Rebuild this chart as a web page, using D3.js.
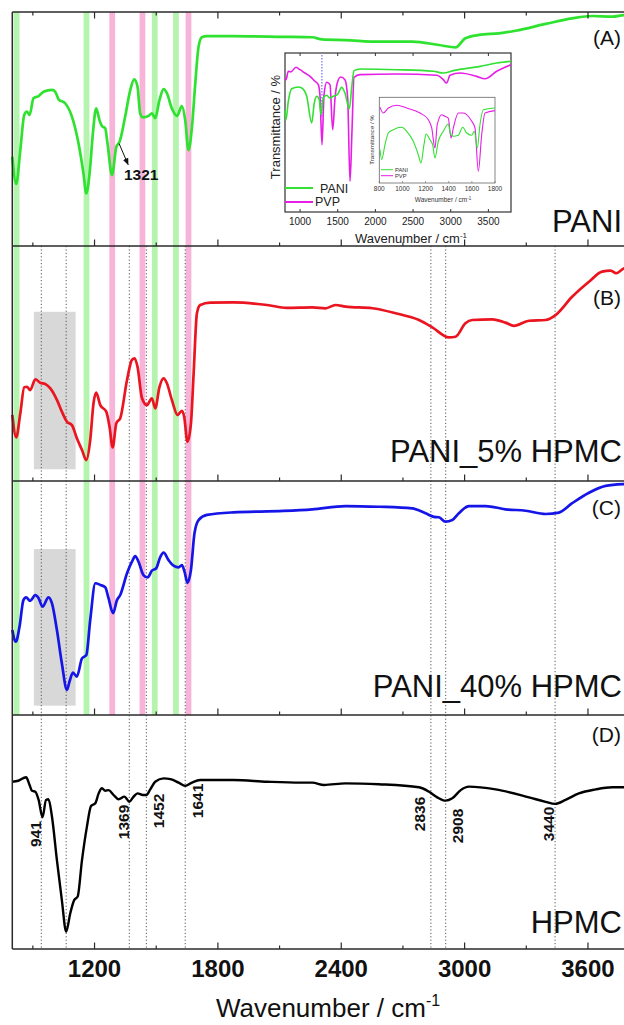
<!DOCTYPE html>
<html><head><meta charset="utf-8">
<script src="https://cdnjs.cloudflare.com/ajax/libs/d3/7.8.5/d3.min.js"></script>
<style>
html,body{margin:0;padding:0;background:#fff;overflow:hidden}
svg{display:block}
text{font-family:"Liberation Sans",Arial,Helvetica,sans-serif}
</style>
</head><body>
<svg id="c" width="624" height="1025"></svg>
<script>
// ---------------- DATA ----------------
// [wavenumber (cm-1), transmittance (a.u., 0-100 within each panel)]
const specPANI = [[800,38.2],[819,26.5],[839,41.0],[858,56.0],[871,57.4],[884,56.0],[903,63.1],[928,64.1],[952,65.9],[993,66.7],[1009,65.9],[1025,62.7],[1057,61.0],[1090,55.3],[1122,43.9],[1146,31.1],[1160,22.5],[1176,31.1],[1192,48.2],[1208,58.8],[1224,53.8],[1236,51.3],[1252,50.3],[1263,43.9],[1285,30.3],[1306,42.4],[1322,44.6],[1349,55.3],[1374,66.7],[1393,71.2],[1409,68.1],[1422,56.7],[1435,55.0],[1463,55.6],[1479,56.7],[1495,54.6],[1516,62.4],[1536,67.0],[1552,65.3],[1576,58.8],[1601,55.6],[1625,59.8],[1641,53.8],[1657,41.0],[1674,51.0],[1690,69.5],[1706,85.2],[1722,89.2],[1747,89.7],[1876,89.7],[2119,89.4],[2259,89.2],[2307,88.3],[2419,88.0],[2583,87.3],[2745,87.3],[2875,85.9],[2956,84.9],[3004,88.8],[3070,90.2],[3167,90.9],[3248,92.0],[3394,94.9],[3523,97.3],[3621,98.3],[3718,98.0],[3776,98.7],[3900,99],[4000,99]];
const specPANI5 = [[800,28.1],[819,18.6],[839,28.8],[858,39.9],[871,40.1],[887,38.7],[912,43.3],[936,41.8],[960,41.3],[985,39.4],[1017,34.5],[1041,29.5],[1066,25.2],[1090,23.8],[1114,18.2],[1139,13.2],[1160,8.9],[1179,17.4],[1195,33.1],[1208,37.6],[1228,32.3],[1257,29.5],[1273,23.1],[1288,14.3],[1306,24.6],[1325,26.7],[1358,43.0],[1382,51.5],[1395,52.2],[1409,48.6],[1431,35.2],[1455,32.3],[1479,35.2],[1495,30.9],[1516,40.1],[1536,43.7],[1552,41.6],[1576,34.5],[1604,28.1],[1625,29.9],[1636,27.4],[1652,16.7],[1669,24.6],[1682,45.8],[1698,71.4],[1714,74.9],[1763,75.9],[1876,76.0],[2039,74.9],[2136,73.7],[2259,73.9],[2324,73.5],[2372,74.9],[2421,74.2],[2551,73.5],[2664,71.4],[2778,68.5],[2843,65.4],[2924,61.1],[2956,61.4],[3004,67.1],[3037,68.5],[3134,68.8],[3199,67.4],[3240,66.0],[3313,68.2],[3394,68.5],[3442,70.6],[3523,78.4],[3605,84.8],[3669,89.1],[3710,89.5],[3737,88.4],[3776,90.5],[3900,92],[4000,93]];
const specPANI40 = [[800,36.3],[817,31.3],[835,37.7],[854,49.1],[867,50.3],[887,48.8],[912,51.2],[928,49.9],[947,46.3],[976,50.3],[993,47.7],[1017,36.3],[1041,22.1],[1066,10.7],[1078,14.2],[1095,18.1],[1114,16.4],[1139,24.2],[1160,25.6],[1179,40.6],[1204,56.3],[1228,55.6],[1252,54.6],[1268,49.9],[1290,43.5],[1309,49.1],[1325,51.3],[1358,60.6],[1382,65.5],[1398,67.9],[1414,65.5],[1438,59.8],[1458,58.8],[1479,61.7],[1500,62.7],[1520,67.6],[1536,69.4],[1560,66.2],[1584,63.8],[1609,63.1],[1625,64.1],[1638,61.2],[1652,56.5],[1669,62.0],[1686,77.6],[1706,83.3],[1747,85.5],[1876,86.6],[2119,87.2],[2259,87.9],[2421,89.3],[2583,89.0],[2745,88.3],[2810,86.2],[2851,84.7],[2875,84.5],[2907,82.6],[2940,83.3],[2972,86.2],[3021,89.3],[3102,89.3],[3199,87.9],[3297,87.3],[3394,85.9],[3459,86.5],[3523,90.5],[3605,95.0],[3686,97.9],[3776,98.7],[3900,99],[4000,99]];
const specHPMC = [[800,71.5],[829,71.9],[867,73.4],[884,70.1],[896,67.6],[912,67.2],[928,63.7],[947,56.3],[964,63.7],[976,64.0],[993,56.5],[1017,38.0],[1041,20.9],[1062,7.4],[1082,15.3],[1101,20.9],[1118,22.4],[1139,38.0],[1163,52.3],[1183,61.1],[1204,62.3],[1220,66.5],[1236,68.7],[1252,67.6],[1268,67.9],[1293,65.8],[1317,64.0],[1345,65.1],[1358,64.0],[1369,62.9],[1390,65.1],[1409,66.5],[1435,65.8],[1452,65.8],[1471,68.2],[1495,71.5],[1536,72.9],[1569,72.6],[1609,71.1],[1641,69.7],[1674,71.1],[1714,72.2],[1876,72.2],[2039,71.5],[2201,71.1],[2259,71.1],[2316,70.1],[2421,70.8],[2583,70.4],[2778,69.1],[2827,67.2],[2867,64.8],[2908,63.4],[2940,64.4],[2981,67.9],[3021,69.4],[3151,68.2],[3313,64.8],[3394,62.9],[3440,62.0],[3491,63.7],[3556,66.5],[3637,68.2],[3718,69.1],[3776,69.1],[3900,69.1],[4000,69]];
// inset (PANI vs PVP, full range)
const insetPANI = [[800,64],[813,58.0],[844,69.6],[889,77.5],[977,78.6],[1022,78.0],[1088,72.8],[1154,56.0],[1189,68.6],[1221,72.8],[1255,70.6],[1278,61.2],[1308,71.7],[1354,73.4],[1397,71.7],[1441,72.8],[1494,73.8],[1553,78.4],[1596,74.8],[1654,65.0],[1685,78.0],[1716,88.9],[1796,89.9],[2283,89.5],[2769,88.5],[2901,87.4],[3034,88.9],[3388,91.6],[3610,93.7],[3800,94.8]];
const insetPVP = [[800,84],[813,83.2],[844,88.5],[876,88.1],[946,91.0],[999,89.5],[1065,87.4],[1132,85.3],[1198,82.2],[1242,80.1],[1265,72.8],[1291,42.3],[1318,73.8],[1354,81.6],[1397,80.1],[1433,51.8],[1464,71.7],[1494,81.1],[1539,84.9],[1596,83.2],[1632,71.7],[1663,19.3],[1689,50.8],[1716,84.7],[1796,86.4],[2283,86.8],[2814,86.0],[2901,83.2],[2946,81.1],[2990,86.0],[3123,87.4],[3345,85.3],[3455,83.8],[3610,88.5],[3800,92.6]];
// inner inset (800-1800 cm-1)
const zoomPANI = [[806,38.9],[821,27.2],[849,44.7],[878,58.3],[921,62.2],[994,65.0],[1037,60.3],[1094,48.7],[1137,33.0],[1160,23.3],[1186,44.7],[1204,57.2],[1238,50.5],[1261,44.7],[1281,29.2],[1310,48.7],[1353,60.3],[1396,68.8],[1417,56.4],[1440,54.5],[1483,55.7],[1521,65.0],[1555,58.3],[1599,55.7],[1621,60.3],[1647,40.8],[1670,68.0],[1699,85.5],[1800,87.5]];
const zoomPVP = [[806,88.3],[835,81.7],[878,87.5],[950,90.7],[1037,87.5],[1152,81.7],[1224,73.9],[1253,64.2],[1281,40.8],[1301,68.0],[1339,79.7],[1368,77.8],[1396,75.8],[1420,52.5],[1440,64.2],[1483,81.7],[1526,81.7],[1599,72.0],[1627,64.2],[1656,13.7],[1685,56.4],[1714,81.7],[1800,84.4]];

const majorTicks = [1200, 1800, 2400, 3000, 3600];
const minorTicks = [900, 1500, 2100, 2700, 3300, 3900];
const greenBands = [821, 1161, 1493, 1596];
const pinkBands = [1286, 1433, 1657];
const hpmcLines = [941, 1062, 1369, 1452, 1641, 2836, 2908, 3440];
const hpmcLabels = [941, 1369, 1452, 1641, 2836, 2908, 3440];
const grayRange = [905, 1108];
const grayLevels = [[72.0, 5.0], [70.9, 4.0]]; // panels B, C
const insetTicks = [1000, 1500, 2000, 2500, 3000, 3500];
const zoomTicks = [800, 1000, 1200, 1400, 1600, 1800];
const panelNames = ["PANI", "PANI_5% HPMC", "PANI_40% HPMC", "HPMC"];
const panelTags = ["(A)", "(B)", "(C)", "(D)"];
const legendNames = ["PANI", "PVP"];
const annot1321 = 1322;

// ---------------- LAYOUT ----------------
const svg = d3.select("#c");
const x = d3.scaleLinear().domain([800, 4000]).range([12.3, 670.2]);
const layout = [
  {top: 12, bottom: 246, color: "#2fe22f", nameY: 232, tagY: 45, width: 2.7},
  {top: 246, bottom: 481, color: "#ea1520", nameY: 462, tagY: 305, width: 2.7},
  {top: 481, bottom: 715, color: "#1515e8", nameY: 697, tagY: 515, width: 2.7},
  {top: 715, bottom: 949, color: "#000000", nameY: 933, tagY: 742, width: 2.4}
];
const series = [specPANI, specPANI5, specPANI40, specHPMC];
const ys = layout.map(p => d3.scaleLinear().domain([0, 100]).range([p.bottom, p.top]));
const labelOffsets = {941: [-6, 834], 1369: [-6, 822], 1452: [11.7, 811], 1641: [12.5, 801], 2836: [-11.7, 814], 2908: [11.5, 826], 3440: [-7, 824]};

// bands (panels A-C)
const bandHalf = 14;
const gBands = svg.append("g");
gBands.selectAll("rect.g").data(greenBands).join("rect")
  .attr("x", d => x(d - bandHalf)).attr("width", d => x(d + bandHalf) - x(d - bandHalf))
  .attr("y", layout[0].top).attr("height", layout[2].bottom - layout[0].top)
  .attr("fill", "#b4f4ae");
gBands.selectAll("rect.p").data(pinkBands).join("rect")
  .attr("x", d => x(d - bandHalf)).attr("width", d => x(d + bandHalf) - x(d - bandHalf))
  .attr("y", layout[0].top).attr("height", layout[2].bottom - layout[0].top)
  .attr("fill", "#f7b3d8");

// gray rectangles in B and C
grayLevels.forEach((lv, i) => {
  const y = ys[i + 1];
  svg.append("rect").attr("x", x(grayRange[0])).attr("width", x(grayRange[1]) - x(grayRange[0]))
    .attr("y", y(lv[0])).attr("height", y(lv[1]) - y(lv[0])).attr("fill", "#d8d8d8");
});

// dotted reference lines (panels B-D)
svg.append("g").selectAll("line").data(hpmcLines).join("line")
  .attr("x1", d => x(d)).attr("x2", d => x(d))
  .attr("y1", layout[1].top).attr("y2", layout[3].bottom)
  .attr("stroke", "#555").attr("stroke-width", 1).attr("stroke-dasharray", "1.2,2.2");

// curves
const line = (xs, y) => d3.line().x(d => xs(d[0])).y(d => y(d[1])).curve(d3.curveMonotoneX);
series.forEach((s, i) => {
  svg.append("path").datum(s).attr("d", line(x, ys[i]))
    .attr("fill", "none").attr("stroke", layout[i].color)
    .attr("stroke-width", layout[i].width).attr("stroke-linejoin", "round");
});

// frame
const frame = svg.append("g").attr("stroke", "#2a2a2a").attr("stroke-width", 1.5);
[layout[0].top, ...layout.map(p => p.bottom)].forEach(yv => {
  frame.append("line").attr("x1", x(800)).attr("x2", x(4000)).attr("y1", yv).attr("y2", yv);
});
frame.append("line").attr("x1", x(800)).attr("x2", x(800)).attr("y1", layout[0].top).attr("y2", layout[3].bottom);
// ticks (inward)
layout.forEach(p => {
  majorTicks.forEach(t => frame.append("line").attr("x1", x(t)).attr("x2", x(t)).attr("y1", p.bottom).attr("y2", p.bottom - 6.5).attr("stroke-width", 1.2));
  minorTicks.forEach(t => frame.append("line").attr("x1", x(t)).attr("x2", x(t)).attr("y1", p.bottom).attr("y2", p.bottom - 3.5).attr("stroke-width", 1.2));
});
majorTicks.forEach(t => frame.append("line").attr("x1", x(t)).attr("x2", x(t)).attr("y1", layout[0].top).attr("y2", layout[0].top + 6.5).attr("stroke-width", 1.2));
minorTicks.forEach(t => frame.append("line").attr("x1", x(t)).attr("x2", x(t)).attr("y1", layout[0].top).attr("y2", layout[0].top + 3.5).attr("stroke-width", 1.2));

// bottom tick labels
svg.append("g").selectAll("text").data(majorTicks).join("text")
  .attr("x", d => x(d)).attr("y", 977).attr("text-anchor", "middle")
  .attr("font-size", 24).attr("font-weight", "bold").attr("fill", "#111").text(d => d);
// axis title
const at = svg.append("text").attr("x", 328).attr("y", 1017).attr("text-anchor", "middle")
  .attr("font-size", 26).attr("fill", "#111");
at.append("tspan").text("Wavenumber / cm");
at.append("tspan").attr("font-size", 16).attr("dy", -11).text("-1");

// panel names and tags
layout.forEach((p, i) => {
  svg.append("text").attr("x", 622).attr("y", p.nameY).attr("text-anchor", "end")
    .attr("font-size", 31).attr("fill", "#111").text(panelNames[i]);
  svg.append("text").attr("x", 621).attr("y", p.tagY).attr("text-anchor", "end")
    .attr("font-size", 21).attr("fill", "#111").text(panelTags[i]);
});

// HPMC peak labels (rotated)
hpmcLabels.forEach(w => {
  const o = labelOffsets[w];
  svg.append("text").attr("transform", `translate(${x(w) + o[0]},${o[1]}) rotate(-90)`)
    .attr("text-anchor", "middle").attr("dy", "0.36em")
    .attr("font-size", 15.5).attr("font-weight", "bold").attr("fill", "#111").text(w);
});

// 1321 annotation
svg.append("defs").append("marker").attr("id", "ah").attr("viewBox", "0 0 10 10")
  .attr("refX", 9).attr("refY", 5).attr("markerWidth", 7).attr("markerHeight", 7).attr("orient", "auto")
  .append("path").attr("d", "M0,1 L10,5 L0,9 Z").attr("fill", "#111");
const p1321 = specPANI.find(d => d[0] === annot1321);
svg.append("line").attr("x1", x(p1321[0]) - 0.5).attr("y1", ys[0](p1321[1]) + 2)
  .attr("x2", x(p1321[0]) + 8.5).attr("y2", ys[0](p1321[1]) + 23)
  .attr("stroke", "#111").attr("stroke-width", 1).attr("marker-end", "url(#ah)");
svg.append("text").attr("x", 124).attr("y", 180).attr("font-size", 15.5).attr("font-weight", "bold")
  .attr("fill", "#111").text(annot1321 - 1);

// ---------------- INSET ----------------
const ib = {x0: 285, x1: 511, y0: 53, y1: 212};
const xi = d3.scaleLinear().domain([800, 3800]).range([ib.x0, ib.x1]);
const yi = d3.scaleLinear().domain([0, 100]).range([ib.y1, ib.y0]);
svg.append("rect").attr("x", ib.x0).attr("y", ib.y0).attr("width", ib.x1 - ib.x0).attr("height", ib.y1 - ib.y0)
  .attr("fill", "#fff").attr("stroke", "#333").attr("stroke-width", 1.2);
svg.append("line").attr("x1", xi(1290)).attr("x2", xi(1290)).attr("y1", ib.y0 + 2).attr("y2", 118)
  .attr("stroke", "#5050ff").attr("stroke-width", 1).attr("stroke-dasharray", "1.5,1.5");
svg.append("path").datum(insetPVP).attr("d", line(xi, yi)).attr("fill", "none").attr("stroke", "#e61ee6").attr("stroke-width", 1.6);
svg.append("path").datum(insetPANI).attr("d", line(xi, yi)).attr("fill", "none").attr("stroke", "#33e033").attr("stroke-width", 1.6);
insetTicks.forEach(t => {
  svg.append("line").attr("x1", xi(t)).attr("x2", xi(t)).attr("y1", ib.y1).attr("y2", ib.y1 - 3).attr("stroke", "#333");
  svg.append("line").attr("x1", xi(t)).attr("x2", xi(t)).attr("y1", ib.y0).attr("y2", ib.y0 + 3).attr("stroke", "#333");
});
svg.append("g").selectAll("text").data(insetTicks).join("text")
  .attr("x", d => xi(d)).attr("y", 225).attr("text-anchor", "middle").attr("font-size", 10).attr("fill", "#222").text(d => d);
const it = svg.append("text").attr("x", 411).attr("y", 243).attr("text-anchor", "middle").attr("font-size", 13).attr("fill", "#222");
it.append("tspan").text("Wavenumber / cm");
it.append("tspan").attr("font-size", 8).attr("dy", -5).text("-1");
svg.append("text").attr("transform", "translate(279.5,127) rotate(-90)").attr("text-anchor", "middle")
  .attr("font-size", 13).attr("fill", "#222").text("Transmittance / %");
// legend
[["#33e033", 188, 193], ["#e61ee6", 202, 206]].forEach((l, i) => {
  svg.append("line").attr("x1", ib.x0).attr("x2", ib.x0 + 28).attr("y1", l[1]).attr("y2", l[1]).attr("stroke", l[0]).attr("stroke-width", 2);
  svg.append("text").attr("x", i === 0 ? 320 : 315).attr("y", l[2]).attr("font-size", 12.5).attr("fill", "#222").text(legendNames[i]);
});

// ---------------- INNER INSET ----------------
const zb = {x0: 379.3, x1: 495, y0: 97.3, y1: 183};
const xz = d3.scaleLinear().domain([800, 1800]).range([zb.x0, zb.x1]);
const yz = d3.scaleLinear().domain([0, 100]).range([zb.y1, zb.y0]);
svg.append("rect").attr("x", zb.x0).attr("y", zb.y0).attr("width", zb.x1 - zb.x0).attr("height", zb.y1 - zb.y0)
  .attr("fill", "#fff").attr("stroke", "#666").attr("stroke-width", 0.8);
svg.append("path").datum(zoomPVP).attr("d", line(xz, yz)).attr("fill", "none").attr("stroke", "#e61ee6").attr("stroke-width", 1.1);
svg.append("path").datum(zoomPANI).attr("d", line(xz, yz)).attr("fill", "none").attr("stroke", "#33e033").attr("stroke-width", 1.1);
zoomTicks.forEach(t => {
  svg.append("line").attr("x1", xz(t)).attr("x2", xz(t)).attr("y1", zb.y1).attr("y2", zb.y1 - 2).attr("stroke", "#666").attr("stroke-width", 0.6);
});
svg.append("g").selectAll("text").data(zoomTicks).join("text")
  .attr("x", d => xz(d)).attr("y", 190.5).attr("text-anchor", "middle").attr("font-size", 6.5).attr("fill", "#333").text(d => d);
const zt = svg.append("text").attr("x", 443).attr("y", 202).attr("text-anchor", "middle").attr("font-size", 6.5).attr("fill", "#333");
zt.append("tspan").text("Wavenumber / cm");
zt.append("tspan").attr("font-size", 4.5).attr("dy", -2.5).text("-1");
svg.append("text").attr("transform", "translate(374,140) rotate(-90)").attr("text-anchor", "middle")
  .attr("font-size", 6.2).attr("fill", "#333").text("Transmittance / %");
[["#33e033", 169.7], ["#e61ee6", 175.7]].forEach((l, i) => {
  svg.append("line").attr("x1", 381).attr("x2", 393).attr("y1", l[1]).attr("y2", l[1]).attr("stroke", l[0]).attr("stroke-width", 1);
  svg.append("text").attr("x", 395).attr("y", l[1] + 2).attr("font-size", 5.8).attr("fill", "#333").text(legendNames[i]);
});
</script>
</body></html>
